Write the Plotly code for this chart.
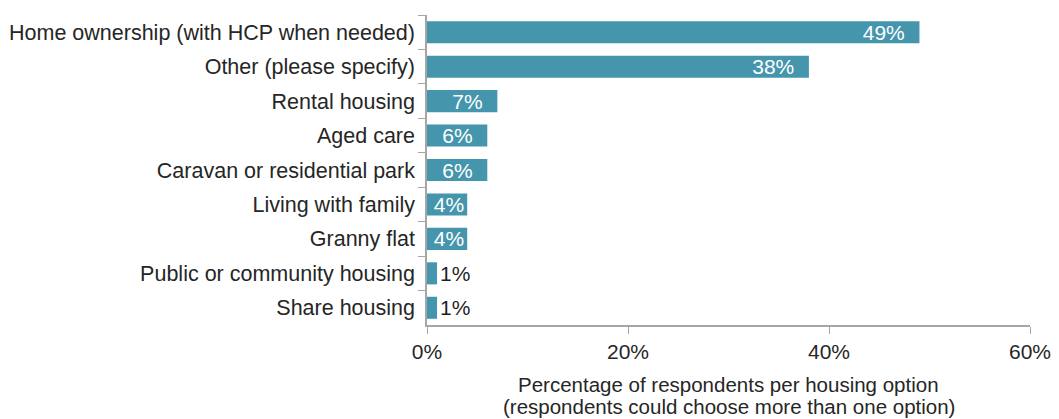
import plotly.graph_objects as go

# Housing options and share of respondents choosing each (%)
options = [
    "Home ownership (with HCP when needed)",
    "Other (please specify)",
    "Rental housing",
    "Aged care",
    "Caravan or residential park",
    "Living with family",
    "Granny flat",
    "Public or community housing",
    "Share housing",
]
percentages = [49, 38, 7, 6, 6, 4, 4, 1, 1]
x_ticks = [0, 20, 40, 60]
x_tick_labels = ["0%", "20%", "40%", "60%"]
title_lines = [
    "Percentage of respondents per housing option",
    "(respondents could choose more than one option)",
]

BAR = "#4596ad"
AXIS = "#a6a6a6"
TEXT = "#262626"
FONT = "Liberation Sans, Arial, sans-serif"

NBSP = "\u00a0"
labels = []
for v in percentages:
    if v >= 6:
        labels.append(f"{v}%{NBSP * 2}")
    else:
        labels.append(f"{v}%")
positions = ["inside" if v >= 4 else "outside" for v in percentages]
label_colors = ["white" if v >= 4 else "#1f1f1f" for v in percentages]

fig = go.Figure(
    go.Bar(
        x=percentages,
        y=options,
        orientation="h",
        marker=dict(color=BAR, line=dict(width=0)),
        width=0.64,
        text=labels,
        textposition=positions,
        insidetextanchor="end",
        textfont=dict(family=FONT, size=21, color=label_colors),
        cliponaxis=False,
        hoverinfo="skip",
    )
)

fig.update_layout(
    width=1059,
    height=419,
    margin=dict(l=427, r=29, t=15, b=94),
    paper_bgcolor="white",
    plot_bgcolor="white",
    showlegend=False,
    font=dict(family=FONT, color=TEXT, size=20),
    uniformtext=dict(minsize=21, mode="show"),
)

fig.update_xaxes(
    range=[0, 60],
    tickvals=x_ticks,
    ticktext=x_tick_labels,
    tickfont=dict(size=21, color=TEXT),
    showgrid=False,
    zeroline=False,
    showline=True,
    linecolor=AXIS,
    linewidth=1.5,
    ticks="outside",
    ticklen=7,
    tickcolor=AXIS,
    automargin=False,
)

fig.update_yaxes(
    autorange="reversed",
    tickfont=dict(size=21.5, color=TEXT),
    showgrid=False,
    showline=True,
    linecolor=AXIS,
    linewidth=1.5,
    ticks="outside",
    tickson="boundaries",
    ticklen=7,
    tickcolor=AXIS,
    ticksuffix=" ",
    automargin=False,
)

# Two-line axis caption under the x axis
for line, ypos in zip(title_lines, [-0.192, -0.262]):
    fig.add_annotation(
        text=line,
        x=0.5,
        y=ypos,
        xref="paper",
        yref="paper",
        xanchor="center",
        yanchor="middle",
        showarrow=False,
        font=dict(family=FONT, size=20.5, color=TEXT),
    )

fig.write_html("out.html")
